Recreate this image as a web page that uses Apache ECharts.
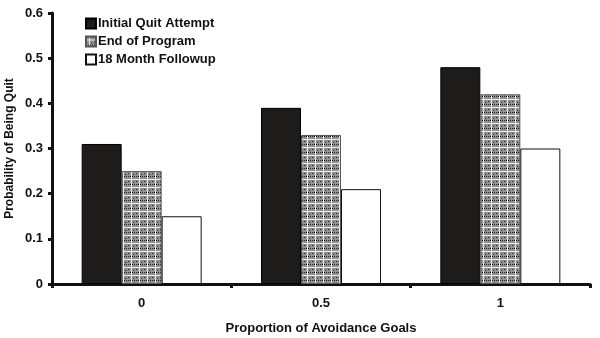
<!DOCTYPE html>
<html><head><meta charset="utf-8">
<script src="https://cdn.jsdelivr.net/npm/echarts@6/dist/echarts.min.js"></script>
<style>html,body{margin:0;padding:0;background:#fff}#c{width:600px;height:338px}</style>
</head><body><div id="c"></div>
<script>
var categories = ['0', '0.5', '1'];
var seriesNames = ['Initial Quit Attempt', 'End of Program', '18 Month Followup'];
var initialQuit = [0.31, 0.39, 0.48];
var endProgram = [0.25, 0.33, 0.42];
var followup18 = [0.15, 0.21, 0.30];

function makePattern() {
  var c = document.createElement('canvas');
  c.width = 8; c.height = 8;
  var g = c.getContext('2d');
  g.fillStyle = '#8f8f8f'; g.fillRect(0, 0, 8, 8);
  g.fillStyle = '#e8e8e8';
  g.fillRect(0, 3, 8, 1); g.fillRect(3, 0, 1, 8);
  g.fillStyle = '#222';
  g.fillRect(0, 0, 1, 1); g.fillRect(2, 0, 1, 1); g.fillRect(4, 0, 1, 1); g.fillRect(6, 0, 1, 1);
  g.fillRect(0, 5, 1, 1); g.fillRect(5, 6, 1, 1);
  return c;
}
var pat = makePattern();
var font = 'Liberation Sans, Arial, sans-serif';
var chart = echarts.init(document.getElementById('c'), null, {renderer: 'canvas'});
chart.setOption({
  animation: false,
  textStyle: {fontFamily: font},
  grid: {left: 52, right: 10, top: 13, bottom: 54, containLabel: false, outerBoundsMode: 'none'},
  legend: {
    orient: 'vertical', left: 80, top: 12, itemWidth: 10, itemHeight: 10, itemGap: 5,
    icon: 'rect',
    textStyle: {fontFamily: font, fontWeight: 'bold', fontSize: 13, color: '#111', padding: [0,0,0,-3]},
    data: seriesNames
  },
  xAxis: {
    type: 'category', data: categories,
    name: 'Proportion of Avoidance Goals', nameLocation: 'middle', nameGap: 38,
    nameTextStyle: {fontFamily: font, fontWeight: 'bold', fontSize: 13, color: '#111'},
    axisLine: {lineStyle: {color: '#111', width: 3}},
    axisTick: {show: true, length: 4, lineStyle: {color: '#111', width: 3}},
    axisLabel: {fontFamily: font, fontWeight: 'bold', fontSize: 13, color: '#111', margin: 13}
  },
  yAxis: {
    type: 'value', min: 0, max: 0.6, interval: 0.1,
    name: 'Probability of Being Quit', nameLocation: 'middle', nameGap: 36, nameMoveOverlap: false,
    nameTextStyle: {fontFamily: font, fontWeight: 'bold', fontSize: 12, color: '#111'},
    axisLine: {show: true, lineStyle: {color: '#111', width: 3}},
    axisTick: {show: true, length: 4, lineStyle: {color: '#111', width: 3}},
    splitLine: {show: false},
    axisLabel: {fontFamily: font, fontWeight: 'bold', fontSize: 13, color: '#111', margin: 9,
      formatter: function (v) { return String(Math.round(v * 10) / 10); }}
  },
  series: [
    {name: seriesNames[0], type: 'bar', data: initialQuit, barWidth: 40, barGap: '0%',
     itemStyle: {color: '#1e1b1b', borderColor: '#000', borderWidth: 1}},
    {name: seriesNames[1], type: 'bar', data: endProgram, barWidth: 40, barGap: '0%',
     itemStyle: {color: {image: pat, repeat: 'repeat'}, borderColor: '#555', borderWidth: 1}},
    {name: seriesNames[2], type: 'bar', data: followup18, barWidth: 40, barGap: '0%',
     itemStyle: {color: '#fff', borderColor: '#111', borderWidth: 1}}
  ]
});
</script></body></html>
